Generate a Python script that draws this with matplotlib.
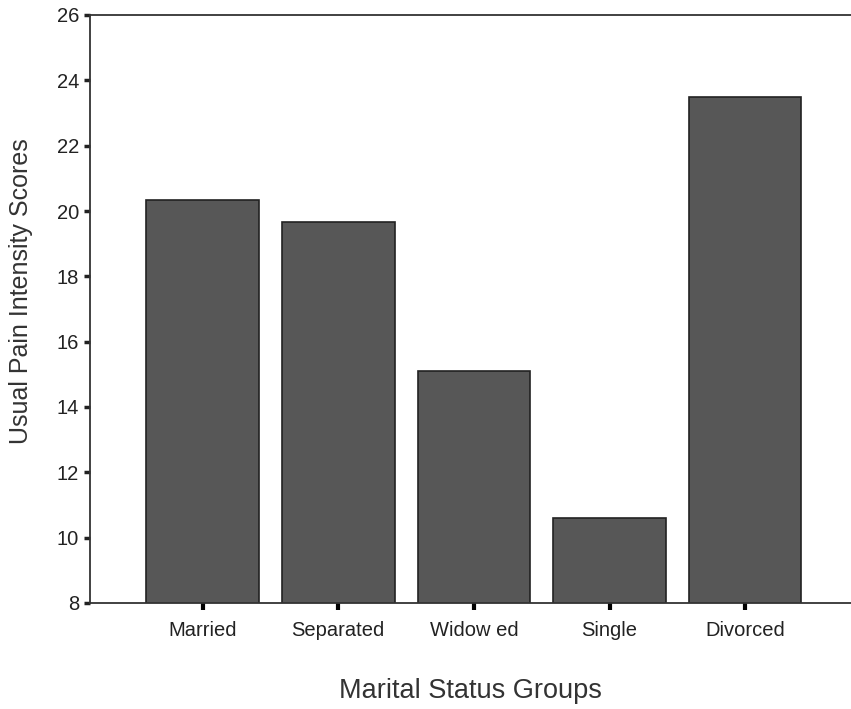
import matplotlib.pyplot as plt

groups = ["Married", "Separated", "Widow ed", "Single", "Divorced"]
scores = [20.35, 19.67, 15.1, 10.6, 23.5]
yticks = [8, 10, 12, 14, 16, 18, 20, 22, 24, 26]

plt.rcParams['font.family'] = ['Liberation Sans', 'DejaVu Sans']

fig = plt.figure(figsize=(8.51, 7.09), dpi=100)
ax = fig.add_axes([90 / 851, 1 - 603 / 709, 1 - 90 / 851, 588 / 709])

x = range(len(groups))
ax.bar(x, scores, width=0.83, bottom=0, color='#575757', edgecolor='#222222', linewidth=1.2)

ax.set_ylim(8, 26)
ax.set_xlim(-0.83, 4.78)
ax.set_yticks(yticks)
ax.set_xticks(list(x))
ax.set_xticklabels(groups, fontsize=14.5, color='#222222')
ax.tick_params(axis='y', labelsize=14.5, colors='#222222', length=4, width=2.5, direction='out', pad=4)
ax.tick_params(axis='x', length=5, width=3, direction='out', pad=8)

for s in ['left', 'top', 'bottom']:
    ax.spines[s].set_color('#333333')
    ax.spines[s].set_linewidth(1.3)
ax.spines['right'].set_visible(False)

ax.set_ylabel("Usual Pain Intensity Scores", fontsize=18, color='#333333')
ax.yaxis.set_label_coords(-0.075, 0.53)
ax.set_xlabel("Marital Status Groups", fontsize=19.5, color='#333333', labelpad=27)

fig.savefig("out.png", dpi=100)
